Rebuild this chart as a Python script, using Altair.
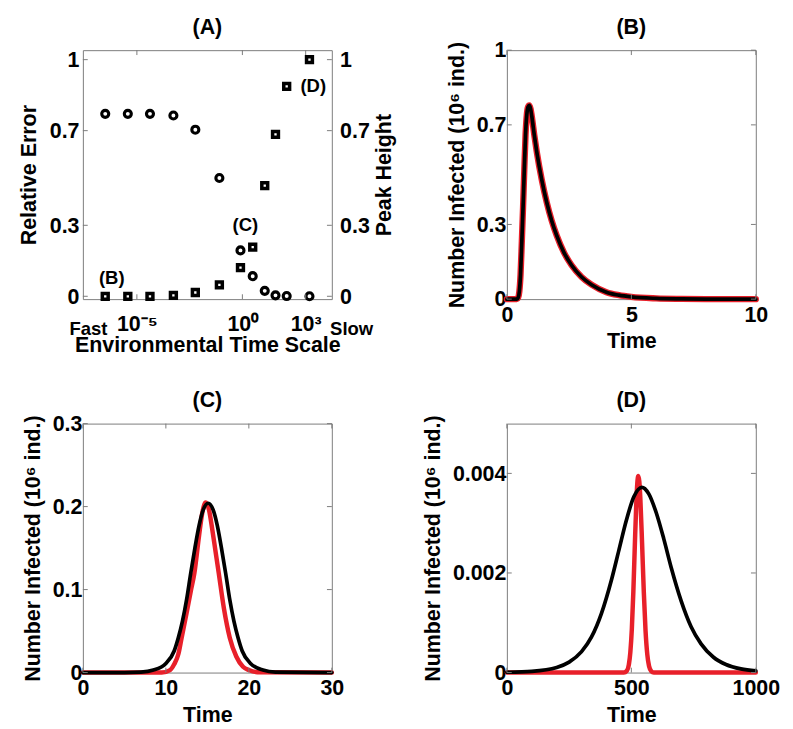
import altair as alt
import pandas as pd

# ---------------- data ----------------
# Panel A (x in log10 of the environmental time scale)
a_log_scale = [-6.5, -5.43, -4.38, -3.27, -2.23, -1.09, -0.09, 0.49, 1.06, 1.57, 2.1, 3.18]
a_peak_height = [0.771, 0.771, 0.771, 0.764, 0.704, 0.50, 0.194, 0.085, 0.023, 0.004, 0.001, 0.0]   # circles
a_rel_error = [0.0, 0.0, 0.0, 0.004, 0.016, 0.048, 0.121, 0.208, 0.468, 0.684, 0.887, 1.0]          # squares
a_note_text = ["(B)", "(C)", "(D)"]
a_note_x = [-6.19, 0.14, 3.36]
a_note_y = [0.078, 0.30, 0.888]
a_end_text = ["Fast", "Slow"]
a_end_x = [-7.3, 5.18]
a_xticks = [-5, 0, 3]
a_yticks = [0, 0.3, 0.7, 1]

# Panel B
b_t = [0, 0.4, 0.45, 0.5, 0.55, 0.6, 0.65, 0.7, 0.75, 0.8, 0.85, 0.9, 0.95, 1.0, 1.1, 1.2, 1.4, 1.6, 1.8,
       2.0, 2.3, 2.6, 3.0, 3.4, 4.0, 4.5, 5, 6, 7, 8, 10]
b_red = [0, 0, 0.005, 0.03, 0.1, 0.23, 0.37, 0.52, 0.66, 0.74, 0.772, 0.778, 0.765, 0.735, 0.66, 0.592,
         0.48, 0.389, 0.315, 0.256, 0.186, 0.136, 0.089, 0.058, 0.028, 0.016, 0.009, 0.003, 0.001, 0.0003, 0]
b_black = [0, 0, 0.005, 0.03, 0.1, 0.23, 0.37, 0.52, 0.66, 0.74, 0.772, 0.778, 0.765, 0.735, 0.66, 0.592,
           0.48, 0.389, 0.315, 0.256, 0.186, 0.136, 0.089, 0.058, 0.028, 0.016, 0.009, 0.003, 0.001, 0.0003, 0]
b_xticks = [0, 5, 10]
b_yticks = [0, 0.3, 0.7, 1]

# Panel C
c_red_t = [0, 9.5, 10.5, 11, 11.5, 11.9, 12.5, 13, 13.44, 14, 14.4, 14.8, 15.2, 15.6, 16, 16.37, 17, 17.7, 18.5, 19.3, 20, 21, 30]
c_red = [0, 0, 0.003, 0.01, 0.022, 0.042, 0.072, 0.098, 0.12, 0.165, 0.193, 0.205, 0.196, 0.172, 0.145, 0.12, 0.077, 0.042, 0.019, 0.007, 0.003, 0.0005, 0]
c_black_t = [0, 5, 7, 8.5, 10, 11, 11.5, 12, 12.5, 13, 13.5, 14, 14.5, 15.1, 15.7, 16.2, 16.7, 17.2, 17.7, 18.2, 18.7, 19.2, 20.2, 21.7, 23.2, 30]
c_black = [0, 0, 0.0005, 0.003, 0.011, 0.026, 0.042, 0.062, 0.088, 0.12, 0.15, 0.177, 0.196, 0.204, 0.196, 0.177, 0.15, 0.12, 0.088, 0.062, 0.042, 0.026, 0.011, 0.003, 0.0005, 0]
c_xticks = [0, 10, 20, 30]
c_yticks = [0, 0.1, 0.2, 0.3]

# Panel D
d_red_t = [0, 470, 482, 490, 496, 502, 508, 514, 520, 524, 528, 532, 536, 543, 550, 557, 564, 571, 580, 590, 1000]
d_red = [0, 0, 0.000036, 0.00016, 0.00041, 0.00088, 0.00162, 0.00256, 0.00342, 0.00381, 0.00395, 0.00384,
         0.00351, 0.00261, 0.00162, 0.00084, 0.000365, 0.000132, 0.000028, 0, 0]
d_black_t = [0, 100, 200, 250, 300, 340, 380, 420, 450, 480, 510, 542, 570, 600, 630, 660, 700, 740, 780,
             830, 880, 940, 1000]
d_black = [0.000006, 0.000025, 0.000103, 0.00021, 0.00042, 0.000715, 0.00119, 0.00186, 0.00246, 0.00306,
           0.00353, 0.00372, 0.00359, 0.00321, 0.00269, 0.00211, 0.00144, 0.00092, 0.000576, 0.000307,
           0.000161, 0.000073, 0.000033]
d_xticks = [0, 500, 1000]
d_yticks = [0, 0.002, 0.004]

panel_titles = ["(A)", "(B)", "(C)", "(D)"]

# ---------------- styling ----------------
W = 256
H = 256
FONT = "Liberation Sans"
GRAY = "#7a7a7a"
RED = "#e8202a"
TL = 5  # inner tick length
NUM = "datum.value + ''"


def panel_title(text):
    return alt.Chart(pd.DataFrame({"label": [text]})).mark_text(
        fontSize=22, fontWeight="bold", font=FONT, color="black", baseline="alphabetic", align="center"
    ).encode(x=alt.value(W / 2), y=alt.value(-17), text="label:N")


def inner_ticks(xvals, yvals, xscale, yscale, xaxis, yaxis):
    xt = pd.DataFrame({"v": xvals})
    yt = pd.DataFrame({"v": yvals})
    xenc = alt.X("v:Q", scale=xscale, axis=xaxis)
    yenc = alt.Y("v:Q", scale=yscale, axis=yaxis)
    rule = dict(color=GRAY, strokeWidth=1)
    return [
        alt.Chart(xt).mark_rule(**rule).encode(x=xenc, y=alt.value(H), y2=alt.value(H - TL)),
        alt.Chart(xt).mark_rule(**rule).encode(x=xenc, y=alt.value(0), y2=alt.value(TL)),
        alt.Chart(yt).mark_rule(**rule).encode(y=yenc, x=alt.value(0), x2=alt.value(TL)),
        alt.Chart(yt).mark_rule(**rule).encode(y=yenc, x=alt.value(W), x2=alt.value(W - TL)),
    ]


def line_panel(title, rt, rv, bt, bv, xdom, xticks, ydom, yticks, red_w):
    xs = alt.Scale(domain=xdom, nice=False, zero=False)
    ys = alt.Scale(domain=ydom, nice=False, zero=False)
    red_df = pd.DataFrame({"t": rt, "v": rv})
    blk_df = pd.DataFrame({"t": bt, "v": bv})
    xaxis = alt.Axis(values=xticks, title="Time", labelExpr=NUM, labelPadding=6, titlePadding=6)
    yaxis = alt.Axis(values=yticks, title="Number Infected (10⁶ ind.)", labelExpr=NUM,
                     labelPadding=1, titlePadding=8)
    red = alt.Chart(red_df).mark_line(color=RED, strokeWidth=red_w, interpolate="monotone",
                                      strokeCap="round", strokeJoin="round").encode(
        x=alt.X("t:Q", scale=xs, axis=xaxis), y=alt.Y("v:Q", scale=ys, axis=yaxis))
    blk = alt.Chart(blk_df).mark_line(color="black", strokeWidth=3.8, interpolate="monotone",
                                      strokeCap="round", strokeJoin="round").encode(
        x=alt.X("t:Q", scale=xs, axis=xaxis), y=alt.Y("v:Q", scale=ys, axis=yaxis))
    return alt.layer(red, blk, *inner_ticks(xticks, yticks, xs, ys, xaxis, yaxis),
                     panel_title(title)).properties(width=W, height=H)


# ---------------- panel A ----------------
ax_s = alt.Scale(domain=[-7.56, 4.24], nice=False, zero=False)
ay_s = alt.Scale(domain=[-0.012, 1.04], nice=False, zero=False)
a_df = pd.DataFrame({"s": a_log_scale, "peak": a_peak_height, "err": a_rel_error})
a_notes = pd.DataFrame({"x": a_note_x, "y": a_note_y, "label": a_note_text})
a_ends = pd.DataFrame({"x": a_end_x, "label": a_end_text})

a_xaxis = alt.Axis(values=a_xticks, title="Environmental Time Scale",
                   labelExpr="datum.value == -5 ? '10⁻⁵' : (datum.value == 0 ? '10⁰' : '10³')",
                   labelPadding=15, titlePadding=1)
a_x = alt.X("s:Q", scale=ax_s, axis=a_xaxis)

squares = alt.Chart(a_df).mark_point(shape="square", filled=False, fill="white", color="black",
                                     strokeWidth=3.6, size=36, opacity=1).encode(
    x=a_x,
    y=alt.Y("err:Q", scale=ay_s,
            axis=alt.Axis(values=a_yticks, title="Relative Error", labelExpr=NUM,
                          labelPadding=4, titlePadding=9)))
circles = alt.Chart(a_df).mark_point(shape="circle", filled=False, color="black",
                                     strokeWidth=3.2, size=52, opacity=1).encode(
    x=a_x,
    y=alt.Y("peak:Q", scale=ay_s,
            axis=alt.Axis(values=a_yticks, title="Peak Height", labelExpr=NUM, orient="right",
                          labelPadding=8, titlePadding=5, titleAngle=270, titleBaseline="top")))
notes = alt.Chart(a_notes).mark_text(fontSize=19, fontWeight="bold", font=FONT, color="black").encode(
    x=alt.X("x:Q", scale=ax_s, axis=a_xaxis),
    y=alt.Y("y:Q", scale=ay_s, axis=None),
    text="label:N")
ends = alt.Chart(a_ends).mark_text(fontSize=19, fontWeight="bold", font=FONT, color="black",
                                   baseline="alphabetic").encode(
    x=alt.X("x:Q", scale=ax_s, axis=a_xaxis),
    y=alt.value(H + 37),
    text="label:N")

a_ticks = inner_ticks(a_xticks, a_yticks, ax_s, ay_s, a_xaxis, None)
panel_a = alt.layer(squares, circles, notes, ends, *a_ticks, panel_title(panel_titles[0])).resolve_scale(
    y="independent").properties(width=W, height=H)

panel_b = line_panel(panel_titles[1], b_t, b_red, b_t, b_black, [0, 10], b_xticks, [0, 1], b_yticks, 6.5)
panel_c = line_panel(panel_titles[2], c_red_t, c_red, c_black_t, c_black, [0, 30], c_xticks, [0, 0.3], c_yticks, 4.6)
panel_d = line_panel(panel_titles[3], d_red_t, d_red, d_black_t, d_black, [0, 1000], d_xticks, [0, 0.005], d_yticks, 4.6)

chart = alt.concat(panel_a, panel_b, panel_c, panel_d, columns=2,
                   spacing=alt.RowColnumber(row=128, column=180), bounds="flush").properties(
    padding={"left": 9, "top": -3, "right": 5, "bottom": 5}
).configure(font=FONT, background="white").configure_axis(
    labelFont=FONT, titleFont=FONT, labelFontSize=22, titleFontSize=22,
    labelFontWeight="bold", titleFontWeight="bold", labelColor="black", titleColor="black",
    domain=False, ticks=False, grid=False, labelFlush=False
).configure_view(stroke=GRAY, strokeWidth=1)

chart.save("out.html", embed_options={"renderer": "svg", "actions": False})
